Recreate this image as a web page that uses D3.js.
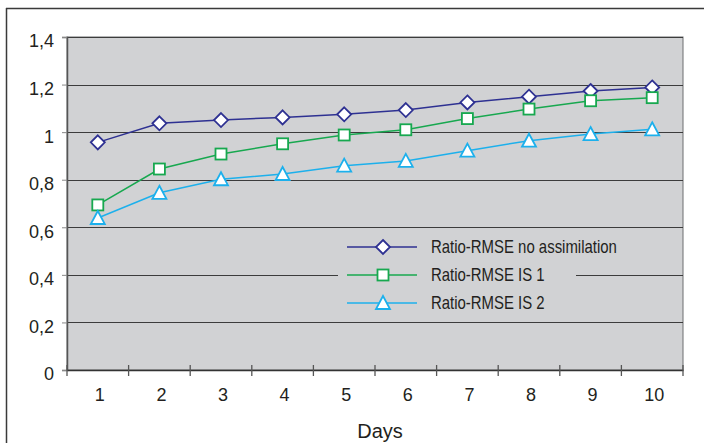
<!DOCTYPE html>
<html lang="en">
<head>
  <meta charset="utf-8">
  <script src="https://cdn.jsdelivr.net/npm/d3@7"></script>
  <style>
    body{margin:0;background:#fff;}
    text{font-family:"Liberation Sans Narrow","Liberation Sans",Arial,sans-serif;fill:#231f20;}
  </style>
</head>
<body>
<svg id="chart" width="704" height="446"></svg>
<script>
  // data
  var days=["1","2","3","4","5","6","7","8","9","10"];
  var noAssim=[0.957,1.037,1.051,1.062,1.075,1.093,1.125,1.149,1.173,1.188];
  var is1=[0.694,0.845,0.908,0.951,0.988,1.010,1.057,1.097,1.132,1.145];
  var is2=[0.639,0.745,0.802,0.824,0.859,0.879,0.922,0.964,0.992,1.012];
  var yTicks=[0,0.2,0.4,0.6,0.8,1,1.2,1.4];
  var seriesNames=["Ratio-RMSE no assimilation","Ratio-RMSE IS 1","Ratio-RMSE IS 2"];

  var series=[
    {name:seriesNames[0],values:noAssim,color:"#2e3192",shape:"diamond"},
    {name:seriesNames[1],values:is1,color:"#17a84f",shape:"square"},
    {name:seriesNames[2],values:is2,color:"#1cb0ec",shape:"triangle"}
  ];

  var svg=d3.select("#chart");
  var plotL=67,plotR=683,plotT=37,plotB=370;

  // outer frame
  svg.append("line").attr("x1",6).attr("x2",704).attr("y1",8.5).attr("y2",8.5)
    .attr("stroke","#3a3a3a").attr("stroke-width",1.5);
  svg.append("line").attr("x1",6.5).attr("x2",6.5).attr("y1",8).attr("y2",443)
    .attr("stroke","#3a3a3a").attr("stroke-width",1.5);

  var x=d3.scaleBand().domain(days).range([plotL,plotR]);
  var y=d3.scaleLinear().domain([0,1.4]).range([plotB,plotT]);

  svg.append("rect").attr("x",plotL).attr("y",plotT)
    .attr("width",plotR-plotL).attr("height",plotB-plotT)
    .attr("fill","#d1d2d4").attr("stroke","#6d6e71").attr("stroke-width",1);

  // gridlines
  svg.append("g").selectAll("line")
    .data(yTicks.filter(function(d){return d>0;}))
    .enter().append("line")
    .attr("x1",plotL).attr("x2",plotR)
    .attr("y1",function(d){return Math.round(y(d))+0.5;})
    .attr("y2",function(d){return Math.round(y(d))+0.5;})
    .attr("stroke","#3c3c3c").attr("stroke-width",1.2);

  // y axis
  var yAxis=svg.append("g").attr("transform","translate("+plotL+",0)")
    .call(d3.axisLeft(y).tickValues(yTicks).tickSize(5).tickPadding(8)
      .tickFormat(function(d){return d3.format("")(d).replace(".",",");}));
  yAxis.attr("font-family",null).attr("font-size",null);
  yAxis.select(".domain").attr("stroke","#555").attr("stroke-width",1.5);
  yAxis.selectAll(".tick line").attr("stroke","#888");
  yAxis.selectAll("text").style("font-size","18px").attr("dy","0.55em");

  // x axis
  var xAxis=svg.append("g").attr("transform","translate(0,"+plotB+")")
    .call(d3.axisBottom(x).tickSize(0).tickPadding(18));
  xAxis.attr("font-family",null).attr("font-size",null);
  xAxis.select(".domain").attr("stroke","#333").attr("stroke-width",1.5);
  xAxis.selectAll("text").style("font-size","18px").attr("dx","2");
  svg.append("g").selectAll("line")
    .data(d3.range(days.length+1))
    .enter().append("line")
    .attr("x1",function(i){return plotL+i*x.bandwidth();})
    .attr("x2",function(i){return plotL+i*x.bandwidth();})
    .attr("y1",plotB-5).attr("y2",plotB+6)
    .attr("stroke","#555").attr("stroke-width",1.3);

  svg.append("text").attr("x",380).attr("y",438)
    .attr("text-anchor","middle").style("font-size","20px").text("Days");

  // legend box
  var lg=svg.append("g");
  lg.append("rect").attr("x",338).attr("y",232).attr("width",238).attr("height",84)
    .attr("fill","#d1d2d4");

  function marker(sel,shape,color){
    if(shape=="diamond"){
      sel.append("path").attr("d","M0,-7L7,0L0,7L-7,0Z");
    }else if(shape=="square"){
      sel.append("rect").attr("x",-5.5).attr("y",-5.5).attr("width",11).attr("height",11);
    }else{
      sel.append("path").attr("d","M0,-7L7,6L-7,6Z");
    }
    sel.selectAll("path,rect").attr("fill","#fff").attr("stroke",color).attr("stroke-width",1.8);
  }

  var line=d3.line()
    .x(function(d,i){return x(days[i])+x.bandwidth()/2;})
    .y(function(d){return y(d);});

  series.forEach(function(s){
    svg.append("path").datum(s.values).attr("d",line)
      .attr("fill","none").attr("stroke",s.color).attr("stroke-width",1.5);
    svg.append("g").selectAll("g").data(s.values).enter().append("g")
      .attr("transform",function(d,i){return "translate("+(x(days[i])+x.bandwidth()/2)+","+y(d)+")";})
      .each(function(){marker(d3.select(this),s.shape,s.color);});
  });

  // legend entries, text squeezed to look like the condensed face of the original
  var legY=[247,275,303];
  series.forEach(function(s,i){
    var g=lg.append("g").attr("transform","translate(0,"+legY[i]+")");
    g.append("line").attr("x1",347).attr("x2",417).attr("y1",0).attr("y2",0)
      .attr("stroke",s.color).attr("stroke-width",1.5);
    marker(g.append("g").attr("transform","translate(383,0)"),s.shape,s.color);
    g.append("text").attr("transform","translate(431,0) scale(0.83,1)")
      .attr("dy","0.35em").style("font-size","18px").text(s.name);
  });
</script>
</body>
</html>
